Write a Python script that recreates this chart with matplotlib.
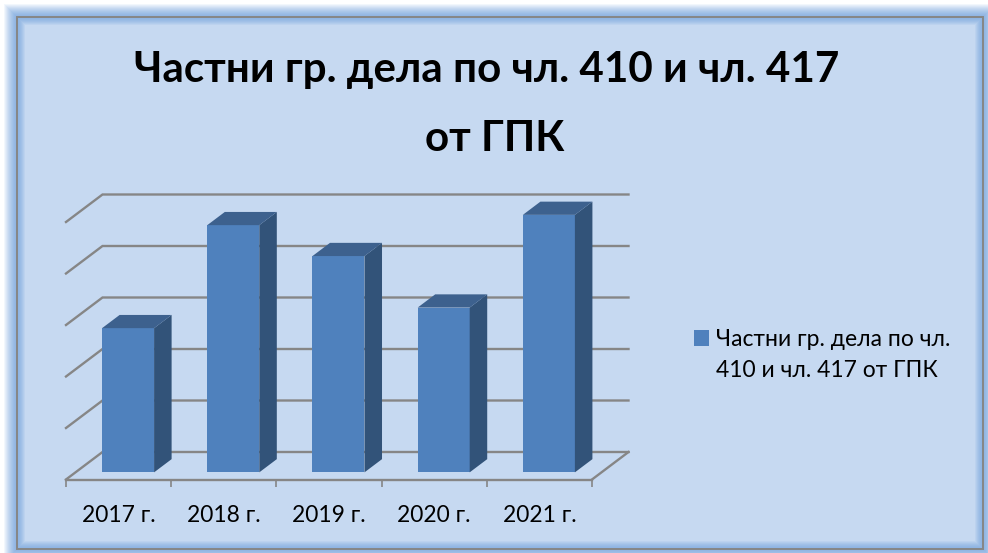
import matplotlib
matplotlib.use('Agg')
import matplotlib.pyplot as plt
from matplotlib.patches import Rectangle, Patch

years = ['2017 г.', '2018 г.', '2019 г.', '2020 г.', '2021 г.']
cases = [14, 24, 21, 16, 25]
grid_values = [0, 5, 10, 15, 20, 25]
title_lines = ['Частни гр. дела по чл. 410 и чл. 417', 'от ГПК']
legend_lines = ['Частни гр. дела по чл.', '410 и чл. 417 от ГПК']

W, H = 988, 553
FILL = '#C6D9F1'
GLOW = '#8DB3E2'
BAR = '#4F81BD'
SIDE = '#325379'
TOP = '#3D618E'
GRID = '#868686'

plt.rcParams['font.family'] = ['Lato', 'Open Sans', 'DejaVu Sans']

fig = plt.figure(figsize=(W / 100, H / 100), dpi=100, facecolor='white')


def mix(c1, c2, t):
    a = matplotlib.colors.to_rgb(c1)
    b = matplotlib.colors.to_rgb(c2)
    return tuple(a[i] + (b[i] - a[i]) * t for i in range(3))


def frame(x0, y0, x1, y1, **kw):
    fig.add_artist(Rectangle((x0 / W, 1 - y1 / H), (x1 - x0) / W, (y1 - y0) / H,
                             transform=fig.transFigure, zorder=-1, **kw))


# outer glow, then the panel with its inner shadow
L, T, R, B = 16.5, 17, 983, 549
for g in range(14, 0, -1):
    frame(L - g, T - g, R + g, B + g, fc=mix(GLOW, 'white', (g / 14) ** 1.6), ec='none')
for g in range(0, 9):
    frame(L + g, T + g, R - g, B - g, fc=mix(GLOW, FILL, (g / 8) ** 1.5), ec='none')
frame(L, T, R, B, fc='none', ec=GRID, lw=1.4)

# axes sit on the front edge of the floor
ax = fig.add_axes([66 / W, 1 - 479.5 / H, 526 / W, 257.5 / H])
ax.patch.set_alpha(0)
ax.set_xlim(-0.5, 4.5)
ax.set_ylim(0, 25)

x_unit = 526 / 5
y_unit = 257.5 / 25
depth_x = 36.5 / x_unit
depth_y = 27.5 / y_unit
bar_width = 52 / x_unit
near = 0.26
far = 0.74

# walls and floor
for v in grid_values:
    ax.plot([-0.5, -0.5 + depth_x, 4.5 + depth_x], [v, v + depth_y, v + depth_y],
            color=GRID, lw=1.7, clip_on=False, zorder=1, solid_joinstyle='miter')
ax.plot([4.5, 4.5 + depth_x], [0, depth_y], color=GRID, lw=1.7, clip_on=False, zorder=1)

# bars
xs = [i + near * depth_x for i in range(len(cases))]
base = near * depth_y
bars = ax.bar(xs, cases, width=bar_width, bottom=base, color=BAR, zorder=3, clip_on=False)
dx = (far - near) * depth_x
dy = (far - near) * depth_y
for x, v in zip(xs, cases):
    right = x + bar_width / 2
    left = x - bar_width / 2
    ax.fill([right, right + dx, right + dx, right],
            [base, base + dy, base + v + dy, base + v],
            color=SIDE, lw=0, clip_on=False, zorder=3)
    ax.fill([left, left + dx, right + dx, right],
            [base + v, base + v + dy, base + v + dy, base + v],
            color=TOP, lw=0, clip_on=False, zorder=3)

for s in ['top', 'left', 'right']:
    ax.spines[s].set_visible(False)
ax.spines['bottom'].set_color(GRID)
ax.spines['bottom'].set_linewidth(1.7)
ax.set_yticks([])
ax.set_xticks([i - 0.5 for i in range(len(years) + 1)])
ax.set_xticklabels([])
ax.set_xticks(range(len(years)), labels=years, minor=True)
ax.tick_params(axis='x', which='major', length=5, width=1.2, color=GRID)
ax.tick_params(axis='x', which='minor', length=0, pad=18, labelsize=16.4, labelcolor='black')

fig.text(487 / W, 1 - 70 / H, title_lines[0], ha='center', va='center',
         fontsize=30.3, fontweight='bold', color='black')
fig.text(495 / W, 1 - 139 / H, title_lines[1], ha='center', va='center',
         fontsize=30.3, fontweight='bold', color='black')

# second legend row carries the wrapped text, with no swatch
ax.legend([bars, Patch(alpha=0)], legend_lines, loc='center left',
          bbox_to_anchor=(694 / W, 1 - 355 / H), bbox_transform=fig.transFigure,
          frameon=False, fontsize=16.5, handlelength=0.65, handleheight=0.65,
          handletextpad=0.3, borderpad=0, borderaxespad=0, labelspacing=0.42,
          labelcolor='black')

fig.savefig('out.png', dpi=100, facecolor='white')
